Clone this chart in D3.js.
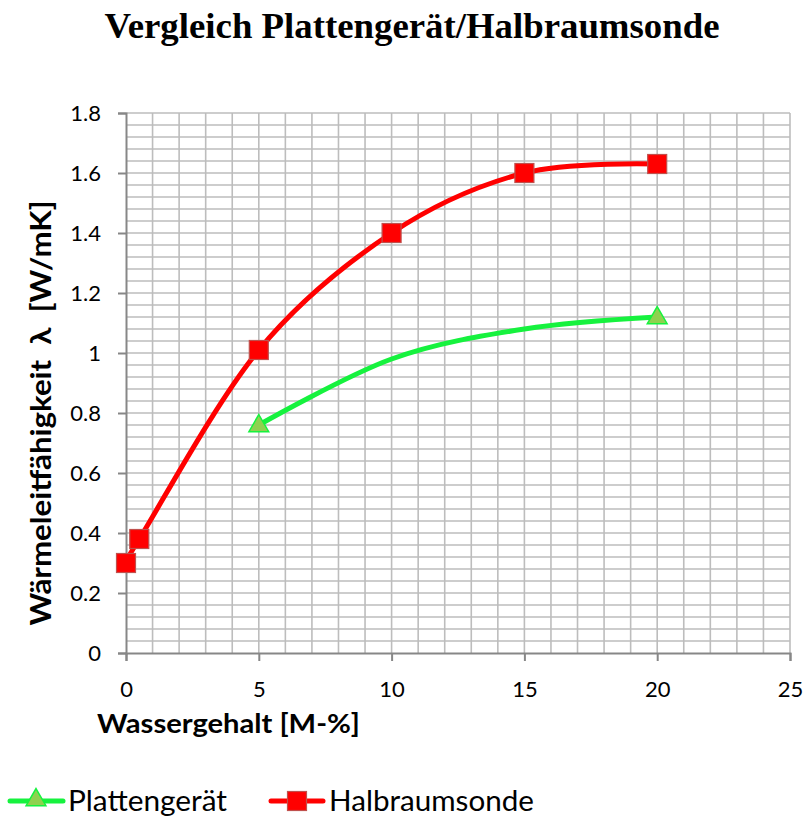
<!DOCTYPE html>
<html>
<head>
<meta charset="utf-8">
<script src="https://cdn.jsdelivr.net/npm/d3@7"></script>
<style>
  html, body { margin: 0; padding: 0; background: #ffffff; }
  svg { display: block; }
</style>
</head>
<body>
<svg id="chart" width="805" height="818"></svg>
<script>
// Series data
const halbraumX = [0, 0.5, 5, 10, 15, 20];
const halbraumY = [0.30, 0.38, 1.01, 1.40, 1.60, 1.63];

const plattenX = [5, 10, 15, 20];
const plattenY = [0.76, 0.98, 1.08, 1.12];
const plattenMarked = [true, false, false, true];

// Axis ticks
const xTicks = [0, 5, 10, 15, 20, 25];
const yTicks = [0, 0.2, 0.4, 0.6, 0.8, 1, 1.2, 1.4, 1.6, 1.8];

const seriesNames = ["Plattengerät", "Halbraumsonde"];

const svg = d3.select("#chart");
const plotLeft = 126, plotRight = 790, plotTop = 113, plotBottom = 653;

const x = d3.scaleLinear().domain([0, 25]).range([plotLeft, plotRight]);
const y = d3.scaleLinear().domain([0, 1.8]).range([plotBottom, plotTop]);

const gridColor = "#bdbdbd";
const axisColor = "#878787";
const sansFont = "Lato, 'Open Sans', 'DejaVu Sans', sans-serif";

// Title
svg.append("text")
  .attr("x", 412).attr("y", 38)
  .attr("text-anchor", "middle")
  .attr("font-family", "'Liberation Serif', 'Times New Roman', serif")
  .attr("font-weight", "bold")
  .attr("font-size", 36)
  .attr("textLength", 615)
  .attr("lengthAdjust", "spacingAndGlyphs")
  .attr("fill", "#000")
  .text("Vergleich Plattengerät/Halbraumsonde");

// Gridlines: vertical every 1 unit, horizontal every 0.04
const grid = svg.append("g");
d3.range(1, 26).forEach(v => {
  grid.append("line")
    .attr("x1", x(v)).attr("x2", x(v))
    .attr("y1", plotTop).attr("y2", plotBottom)
    .attr("stroke", gridColor).attr("stroke-width", 1.6);
});
d3.range(1, 46).forEach(i => {
  const v = i * 0.04;
  grid.append("line")
    .attr("x1", plotLeft).attr("x2", plotRight)
    .attr("y1", y(v)).attr("y2", y(v))
    .attr("stroke", gridColor).attr("stroke-width", 1.6);
});

// Axes
const xAxis = d3.axisBottom(x).tickValues(xTicks).tickSize(8).tickPadding(20).tickFormat(d3.format("d"));
const yAxis = d3.axisLeft(y).tickValues(yTicks).tickSize(8).tickPadding(17).tickFormat(d => d3.format("~g")(d));

const gx = svg.append("g").attr("transform", `translate(0,${plotBottom})`).call(xAxis);
const gy = svg.append("g").attr("transform", `translate(${plotLeft},0)`).call(yAxis);

[gx, gy].forEach(g => {
  g.select(".domain").attr("stroke", axisColor).attr("stroke-width", 2);
  g.selectAll(".tick line").attr("stroke", axisColor).attr("stroke-width", 2);
  g.selectAll(".tick text")
    .attr("fill", "#000")
    .attr("font-family", sansFont)
    .attr("font-size", 22);
});
gy.selectAll(".tick text").attr("dy", "0.35em");

// Axis titles
svg.append("text")
  .attr("x", 97).attr("y", 733)
  .attr("font-family", sansFont)
  .attr("font-weight", "bold")
  .attr("font-size", 27)
  .attr("textLength", 263)
  .attr("lengthAdjust", "spacingAndGlyphs")
  .attr("fill", "#000")
  .text("Wassergehalt [M-%]");

svg.append("text")
  .attr("transform", "translate(51,413) rotate(-90)")
  .attr("text-anchor", "middle")
  .attr("font-family", sansFont)
  .attr("font-weight", "bold")
  .attr("font-size", 28)
  .attr("textLength", 425)
  .attr("lengthAdjust", "spacingAndGlyphs")
  .attr("fill", "#000")
  .style("white-space", "pre")
  .text("Wärmeleitfähigkeit  λ  [W/mK]");

// Lines
const line = d3.line()
  .x(d => x(d[0])).y(d => y(d[1]))
  .curve(d3.curveCardinal.tension(0));

const platten = plattenX.map((v, i) => [v, plattenY[i], plattenMarked[i]]);
const halbraum = halbraumX.map((v, i) => [v, halbraumY[i]]);

const green = "#16f23e";
const red = "#ff0000";

svg.append("path").datum(platten)
  .attr("d", line).attr("fill", "none")
  .attr("stroke", green).attr("stroke-width", 5).attr("stroke-linecap", "round");

svg.append("path").datum(halbraum)
  .attr("d", line).attr("fill", "none")
  .attr("stroke", red).attr("stroke-width", 5).attr("stroke-linecap", "round");

// Markers
const tri = d3.symbol().type(d3.symbolTriangle).size(170);
const sq = 19;

svg.append("g").selectAll("path")
  .data(platten.filter(d => d[2]))
  .join("path")
  .attr("d", tri)
  .attr("transform", d => `translate(${x(d[0])},${y(d[1]) + 1})`)
  .attr("fill", "#8fd14f").attr("stroke", green).attr("stroke-width", 1.5);

svg.append("g").selectAll("rect")
  .data(halbraum)
  .join("rect")
  .attr("x", d => x(d[0]) - sq / 2).attr("y", d => y(d[1]) - sq / 2)
  .attr("width", sq).attr("height", sq)
  .attr("fill", red).attr("stroke", "#c0504d").attr("stroke-width", 1.2);

// Legend
const legY = 801;
const leg = svg.append("g");
// Plattengerät
leg.append("line").attr("x1", 10).attr("x2", 63).attr("y1", legY).attr("y2", legY)
  .attr("stroke", green).attr("stroke-width", 5).attr("stroke-linecap", "round");
leg.append("path").attr("d", tri).attr("transform", `translate(36,${legY - 1})`)
  .attr("fill", "#8fd14f").attr("stroke", green).attr("stroke-width", 1.5);
leg.append("text").attr("x", 68).attr("y", legY + 10)
  .attr("font-family", sansFont).attr("font-size", 28).attr("fill", "#000")
  .attr("textLength", 159).attr("lengthAdjust", "spacingAndGlyphs")
  .text(seriesNames[0]);
// Halbraumsonde
leg.append("line").attr("x1", 271).attr("x2", 323).attr("y1", legY).attr("y2", legY)
  .attr("stroke", red).attr("stroke-width", 5).attr("stroke-linecap", "round");
leg.append("rect").attr("x", 297 - sq / 2).attr("y", legY - sq / 2).attr("width", sq).attr("height", sq)
  .attr("fill", red).attr("stroke", "#c0504d").attr("stroke-width", 1.2);
leg.append("text").attr("x", 329).attr("y", legY + 10)
  .attr("font-family", sansFont).attr("font-size", 28).attr("fill", "#000")
  .attr("textLength", 205).attr("lengthAdjust", "spacingAndGlyphs")
  .text(seriesNames[1]);
</script>
</body>
</html>
